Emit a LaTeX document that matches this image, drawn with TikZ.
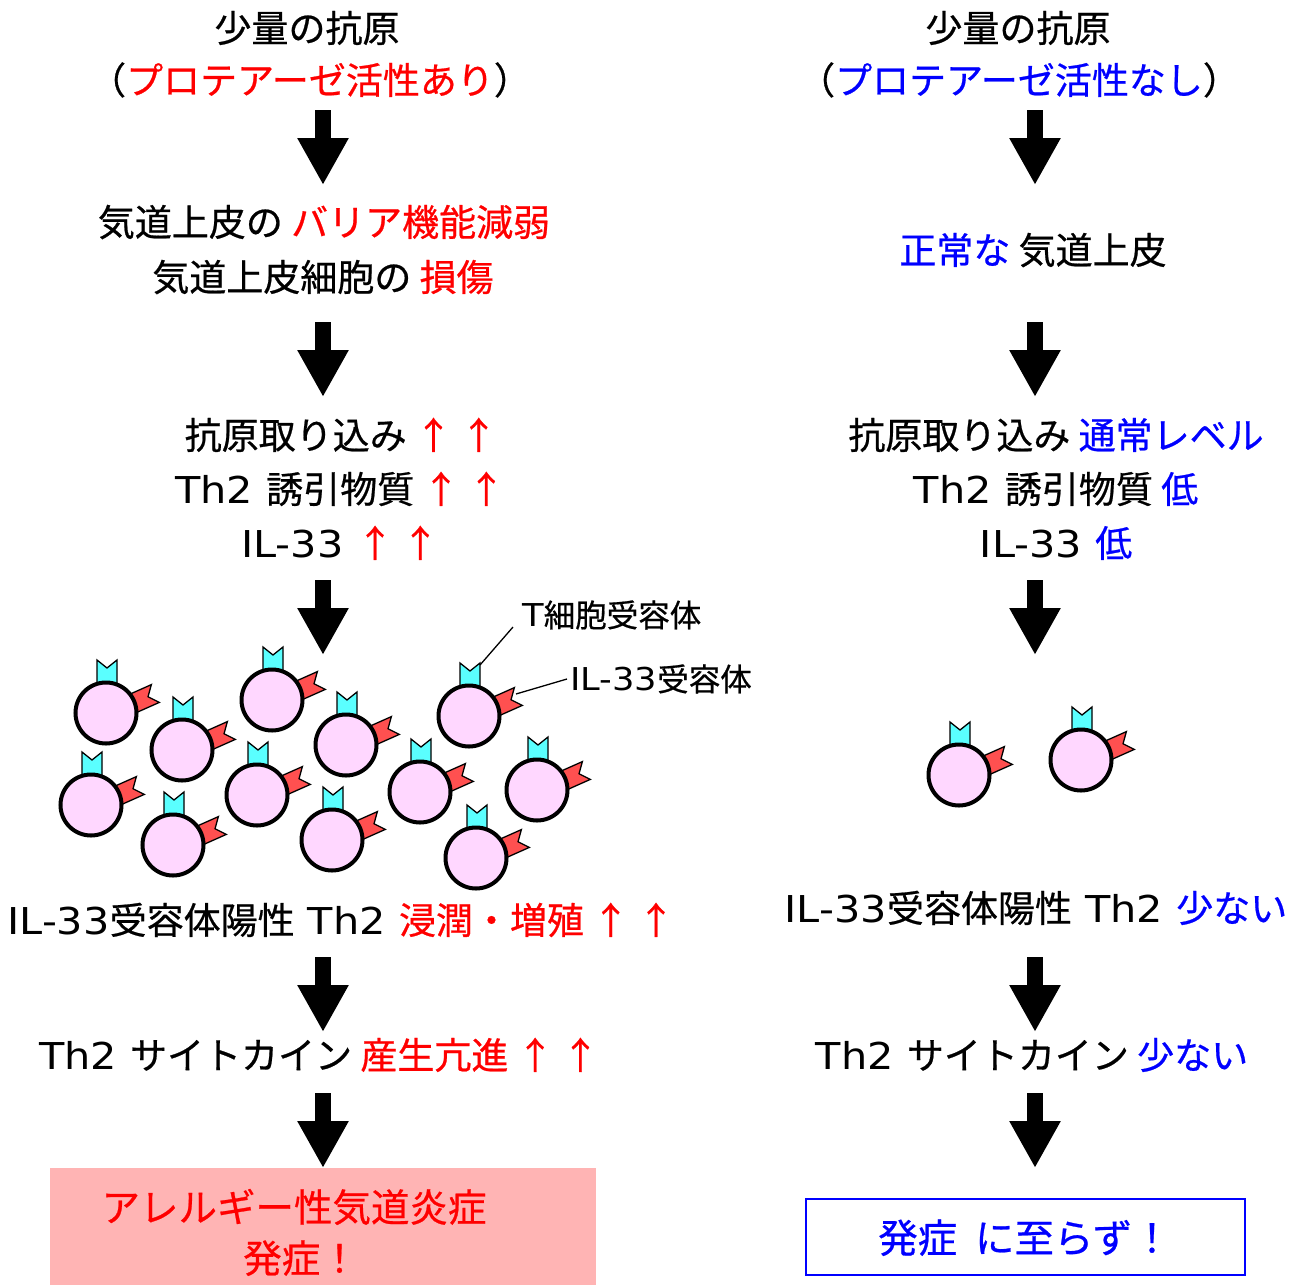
\documentclass[tikz,border=0pt]{standalone}
\usepackage{fontspec}
\setmainfont{Noto Sans CJK JP}[FakeBold=0.6]
\newfontfamily\lat{DejaVu Sans}[FakeStretch=1.12]
\usetikzlibrary{arrows.meta}

\definecolor{cellpink}{RGB}{255,215,255}
\definecolor{tcrcyan}{RGB}{90,255,255}
\definecolor{ilred}{RGB}{255,80,80}
\definecolor{boxpink}{RGB}{255,180,180}

\newcommand{\hi}[1]{\textcolor{red}{#1}}
\newcommand{\lo}[1]{\textcolor{blue}{#1}}
\newcommand{\la}[1]{{\lat #1}}

\tikzset{
  txt/.style={inner sep=0pt, font=\fontsize{37}{44}\selectfont,
    text height=32.5pt, text depth=4.5pt},
  boxtxt/.style={inner sep=0pt, font=\fontsize{38.5}{46}\selectfont,
    text height=33.9pt, text depth=4.6pt},
  lbl/.style={inner sep=0pt, font=\fontsize{31.5}{38}\selectfont,
    text height=27.7pt, text depth=3.8pt},
  flow/.style={line width=16pt, -{Triangle[width=48pt,length=47pt]}},
  leader/.style={line width=1.3pt},
  rcp/.style={draw=black, line width=1.3pt, line join=miter},
  cell/.pic={
    % IL-33 receptor (red swallowtail flag)
    \filldraw[rcp, fill=ilred, rotate=24]
      (20,-12) -- (53,-12) -- (45,-2.25) -- (53,7.5) -- (20,7.5) -- cycle;
    % T cell receptor (cyan notched tab)
    \filldraw[rcp, fill=tcrcyan]
      (-9,20) -- (-9,53) -- (1,45) -- (11,53) -- (11,20) -- cycle;
    % cell body
    \filldraw[fill=cellpink, draw=black, line width=4pt] (0,0) circle (30.5);
  }
}

\begin{document}
\begin{tikzpicture}[x=1pt,y=1pt]
\useasboundingbox (0,0) rectangle (1309,-1285);

% ---------------- left column: protease-active antigen ----------------
\node[txt] (la0) at (307,-28) {少量の抗原};
\node[txt] (la1) at (310,-80) {（\hi{プロテアーゼ活性あり}）};
\node[txt] (lb0) at (324,-222) {気道上皮の \hi{バリア機能減弱}};
\node[txt] (lb1) at (323,-277) {気道上皮細胞の \hi{損傷}};
\node[txt] (lc0) at (341,-435) {抗原取り込み \hi{↑ ↑}};
\node[txt] (lc1) at (340,-489) {\la{Th2 }誘引物質 \hi{↑ ↑}};
\node[txt] (lc2) at (340,-543) {\la{IL-33 }\hi{↑ ↑}};
\node[txt] (ld)  at (341,-920) {\la{IL-33}受容体陽性\la{ Th2 }\hi{浸潤・増殖 ↑ ↑}};
\node[txt] (le)  at (319,-1055) {\la{Th2 }サイトカイン \hi{産生亢進 ↑ ↑}};

\fill[boxpink] (50,-1168) rectangle (596,-1285);
\node[boxtxt, text=red] (lfa) at (294,-1207) {アレルギー性気道炎症};
\node[boxtxt, text=red] (lfb) at (301,-1258) {発症！};

% flow arrows (left)
\coordinate (lA1s) at (323,-110);  \coordinate (lA1e) at (323,-185);
\coordinate (lA2s) at (323,-322);  \coordinate (lA2e) at (323,-397);
\coordinate (lA3s) at (323,-580);  \coordinate (lA3e) at (323,-655);
\coordinate (lA4s) at (323,-957);  \coordinate (lA4e) at (323,-1032);
\coordinate (lA5s) at (323,-1093); \coordinate (lA5e) at (323,-1168);
\foreach \k in {1,...,5} \draw[flow] (lA\k s) -- (lA\k e);

% many Th2 cells
\pic (c1)  at (106,-713) {cell};
\pic (c2)  at (182,-750) {cell};
\pic (c3)  at (272,-700) {cell};
\pic (c4)  at (91,-805)  {cell};
\pic (c5)  at (173,-845) {cell};
\pic (c6)  at (257,-795) {cell};
\pic (c7)  at (346,-745) {cell};
\pic (c8)  at (332,-840) {cell};
\pic (c9)  at (420,-792) {cell};
\pic (c10) at (469,-716) {cell};
\pic (c11) at (537,-790) {cell};
\pic (c12) at (476,-858) {cell};

% receptor labels
\node[lbl, anchor=west] (tcrlab) at (522,-615) {\la{T}細胞受容体};
\node[lbl, anchor=west] (illab)  at (570,-679) {\la{IL-33}受容体};
\coordinate (tcrtip) at (480,-665);
\coordinate (iltip)  at (516,-694);
\draw[leader] (tcrtip) -- ([shift={(-9,-12)}]tcrlab.west);
\draw[leader] (iltip) -- ([xshift=-3pt]illab.west);

% ---------------- right column: no protease activity ----------------
\node[txt] (ra0) at (1018,-28) {少量の抗原};
\node[txt] (ra1) at (1019,-80) {（\lo{プロテアーゼ活性なし}）};
\node[txt] (rb)  at (1033,-250) {\lo{正常な} 気道上皮};
\node[txt] (rc0) at (1056,-435) {抗原取り込み \lo{通常レベル}};
\node[txt] (rc1) at (1056,-489) {\la{Th2 }誘引物質 \lo{低}};
\node[txt] (rc2) at (1056,-543) {\la{IL-33 }\lo{低}};
\node[txt] (rd)  at (1036,-908) {\la{IL-33}受容体陽性\la{ Th2 }\lo{少ない}};
\node[txt] (re)  at (1032,-1055) {\la{Th2 }サイトカイン \lo{少ない}};

\draw[blue, line width=2pt, fill=white] (806,-1199) rectangle (1245,-1275);
\node[boxtxt, text=blue, font=\fontsize{39.5}{46}\selectfont] (rf) at (1025,-1238)
  {発症\hspace{0.45em}に至らず！};

% flow arrows (right)
\coordinate (rA1s) at (1035,-110);  \coordinate (rA1e) at (1035,-185);
\coordinate (rA2s) at (1035,-322);  \coordinate (rA2e) at (1035,-397);
\coordinate (rA3s) at (1035,-580);  \coordinate (rA3e) at (1035,-655);
\coordinate (rA4s) at (1035,-957);  \coordinate (rA4e) at (1035,-1032);
\coordinate (rA5s) at (1035,-1093); \coordinate (rA5e) at (1035,-1168);
\foreach \k in {1,...,5} \draw[flow] (rA\k s) -- (rA\k e);

% few Th2 cells
\pic (d1) at (959,-775)  {cell};
\pic (d2) at (1081,-760) {cell};

\end{tikzpicture}
\end{document}
